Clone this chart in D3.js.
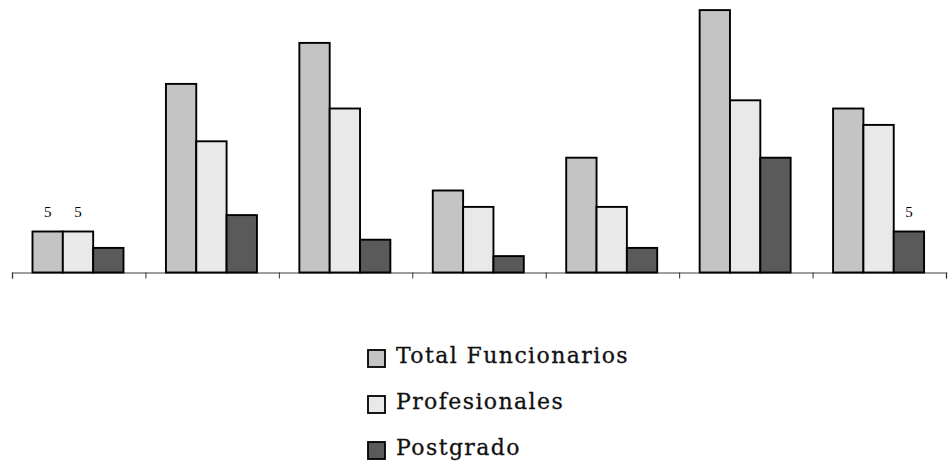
<!DOCTYPE html>
<html>
<head>
<meta charset="utf-8">
<script src="https://cdn.jsdelivr.net/npm/d3@7"></script>
<style>
  html, body { margin: 0; padding: 0; background: #fff; }
  svg { display: block; }
</style>
</head>
<body>
<svg id="chart" width="948" height="462"></svg>
<script>
// Seven groups, three series
const categories = ["G1", "G2", "G3", "G4", "G5", "G6", "G7"];
const seriesNames = ["Total Funcionarios", "Profesionales", "Postgrado"];
const totalFuncionarios = [5, 23, 28, 10, 14, 32, 20];
const profesionales     = [5, 16, 20, 8, 8, 21, 18];
const postgrado         = [3, 7, 4, 2, 3, 14, 5];
// value labels shown above selected bars: [series index, category index]
const labelled = [[0, 0], [1, 0], [2, 6]];

const seriesValues = [totalFuncionarios, profesionales, postgrado];
const colors = ["#c4c4c4", "#e9e9e9", "#5a5a5a"];

const svg = d3.select("#chart");
const baseY = 272.5;

const x0 = d3.scaleBand().domain(categories).range([12, 946]).padding(0);
const x1 = d3.scaleBand().domain(seriesNames).range([20.5, 111.5]).padding(0);
const y = d3.scaleLinear().domain([0, 32]).range([baseY, baseY - 262.4]);

// bars
const groups = svg.selectAll("g.grp")
  .data(categories)
  .join("g")
  .attr("class", "grp")
  .attr("transform", d => `translate(${x0(d)},0)`);

groups.selectAll("rect")
  .data((c, ci) => seriesNames.map((s, si) => ({ s, si, v: seriesValues[si][ci] })))
  .join("rect")
  .attr("x", d => x1(d.s))
  .attr("width", x1.bandwidth())
  .attr("y", d => y(d.v))
  .attr("height", d => y(0) - y(d.v))
  .attr("fill", d => colors[d.si])
  .attr("stroke", "#000")
  .attr("stroke-width", 1.9);

// category axis with ticks between groups, no labels
const axis = d3.axisBottom(d3.scaleLinear().domain([0, categories.length]).range([12, 946]))
  .tickValues(d3.range(categories.length + 1))
  .tickSize(6)
  .tickFormat("");
const ax = svg.append("g").attr("transform", `translate(0,${baseY})`).call(axis);
ax.select(".domain").attr("stroke", "#808080").attr("stroke-width", 1.5);
ax.selectAll(".tick line").attr("stroke", "#333").attr("stroke-width", 1);
// keep bars above the axis line
svg.selectAll("g.grp").raise();

// value labels
svg.selectAll("text.val")
  .data(labelled)
  .join("text")
  .attr("class", "val")
  .attr("x", d => x0(categories[d[1]]) + x1(seriesNames[d[0]]) + x1.bandwidth() / 2)
  .attr("y", d => y(seriesValues[d[0]][d[1]]) - 15)
  .attr("text-anchor", "middle")
  .style("font-family", "'Liberation Serif', 'Times New Roman', serif")
  .attr("font-size", 15)
  .attr("fill", "#000")
  .text(d => seriesValues[d[0]][d[1]]);

// legend
const legend = svg.append("g").attr("transform", "translate(368,350)");
const items = legend.selectAll("g")
  .data(seriesNames)
  .join("g")
  .attr("transform", (d, i) => `translate(0,${i * 46})`);
items.append("rect")
  .attr("width", 17).attr("height", 17)
  .attr("fill", (d, i) => colors[i])
  .attr("stroke", "#000").attr("stroke-width", 1.8);
items.append("text")
  .attr("x", 28).attr("y", 12.5)
  .style("font-family", "'DejaVu Serif', serif")
  .attr("font-size", 22)
  .attr("letter-spacing", 1.4)
  .attr("fill", "#111")
  .attr("stroke", "#111")
  .attr("stroke-width", 0.3)
  .text(d => d);
</script>
</body>
</html>
